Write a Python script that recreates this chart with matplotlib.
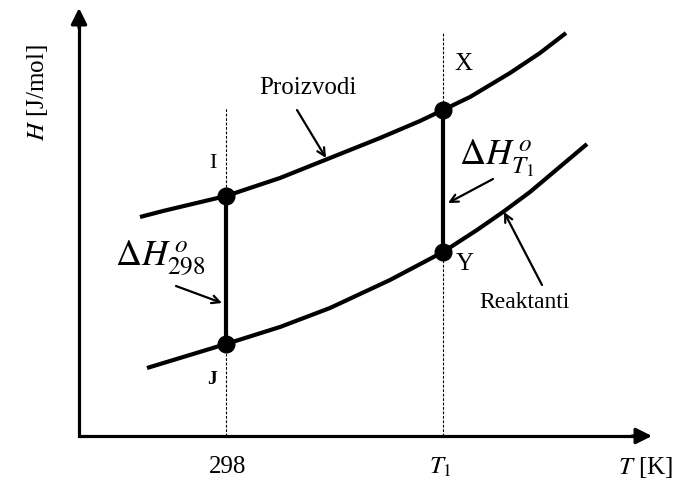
import matplotlib
matplotlib.use("Agg")
import matplotlib.pyplot as plt

plt.rcParams['font.family'] = ['Liberation Serif', 'DejaVu Serif']
plt.rcParams['mathtext.fontset'] = 'stix'

# Schematic enthalpy curves (arbitrary units, origin at the axes corner)
products_T = [61, 84, 147, 201, 246, 301, 341, 364, 391, 431, 461, 487]
products_H = [219, 225, 240, 258, 276, 298, 315, 326, 339, 363, 383, 403]

reactants_T = [68, 147, 201, 251, 311, 364, 398, 424, 451, 508]
reactants_H = [68, 92, 109, 128, 156, 184, 206, 224, 244, 292]

T_298 = 147
T_1 = 364
H_I, H_J = 240, 92      # products / reactants at 298 K
H_X, H_Y = 326, 184     # products / reactants at T1

tick_labels = ["298", r"$T_{\mathit{1}}$"]

x_max, y_max = 573, 428

fig = plt.figure(figsize=(6.77, 4.84), dpi=100)
ax = fig.add_axes([0, 0, 1, 1])
ax.set_xlim(-79, 598)
ax.set_ylim(-48, 436)
ax.axis('off')

# axes with arrow heads
ax.plot([0, 0, x_max - 14], [y_max - 14, 0, 0], color='k', lw=2.3,
        solid_joinstyle='miter', solid_capstyle='butt')
ax.annotate('', xy=(x_max, 0), xytext=(x_max - 20, 0),
            arrowprops=dict(arrowstyle='-|>', color='k', lw=2.3,
                            mutation_scale=24, shrinkA=0, shrinkB=0))
ax.annotate('', xy=(0, y_max), xytext=(0, y_max - 20),
            arrowprops=dict(arrowstyle='-|>', color='k', lw=2.3,
                            mutation_scale=24, shrinkA=0, shrinkB=0))

# dotted guide lines at the two temperatures
ax.plot([T_298, T_298], [0, 328], color='k', lw=0.8, ls=(0, (2.5, 1.5)))
ax.plot([T_1, T_1], [0, 403], color='k', lw=0.8, ls=(0, (2.5, 1.5)))

# curves
ax.plot(products_T, products_H, color='k', lw=3.0, solid_capstyle='butt',
        solid_joinstyle='round')
ax.plot(reactants_T, reactants_H, color='k', lw=3.0, solid_capstyle='butt',
        solid_joinstyle='round')

# enthalpy differences
ax.plot([T_298, T_298], [H_J, H_I], color='k', lw=3.0)
ax.plot([T_1, T_1], [H_Y, H_X], color='k', lw=3.0)
ax.plot([T_298, T_298, T_1, T_1], [H_I, H_J, H_X, H_Y], 'o', color='k',
        ms=12, ls='none')

# point labels
ax.text(134, 273, "I", fontsize=16, ha='center', va='center')
ax.text(133, 56, "J", fontsize=14, fontweight='bold', ha='center', va='center')
ax.text(384, 372, "X", fontsize=18, ha='center', va='center')
ax.text(386, 172, "Y", fontsize=18, ha='center', va='center')

# curve labels
arrow_kw = dict(arrowstyle='->', color='k', lw=1.6, mutation_scale=14,
                shrinkA=0, shrinkB=0)
ax.text(229, 348, "Proizvodi", fontsize=18, ha='center', va='center')
ax.annotate('', xy=(247, 278), xytext=(218, 326), arrowprops=arrow_kw)
ax.text(446, 134, "Reaktanti", fontsize=17, ha='center', va='center')
ax.annotate('', xy=(425, 224), xytext=(463, 151), arrowprops=arrow_kw)

ax.text(418, 278, r"$\Delta H^{\,o}_{T_1}$", fontsize=26, ha='center', va='center')
ax.annotate('', xy=(369, 233), xytext=(414, 257), arrowprops=arrow_kw)
ax.text(81, 178, r"$\Delta H^{\,o}_{298}$", fontsize=26, ha='center', va='center')
ax.annotate('', xy=(143, 133), xytext=(97, 150), arrowprops=arrow_kw)

# tick labels and axis titles
ax.text(T_298 + 2, -31, tick_labels[0], fontsize=18, ha='center', va='center')
ax.text(T_1 - 3, -31, tick_labels[1], fontsize=18, ha='center', va='center')
ax.text(594, -31, r"$T$ [K]", fontsize=18, ha='right', va='center')
ax.text(-42, 343, r"$H$ [J/mol]", fontsize=18, ha='center', va='center',
        rotation=90)

fig.savefig("out.png", dpi=100)
